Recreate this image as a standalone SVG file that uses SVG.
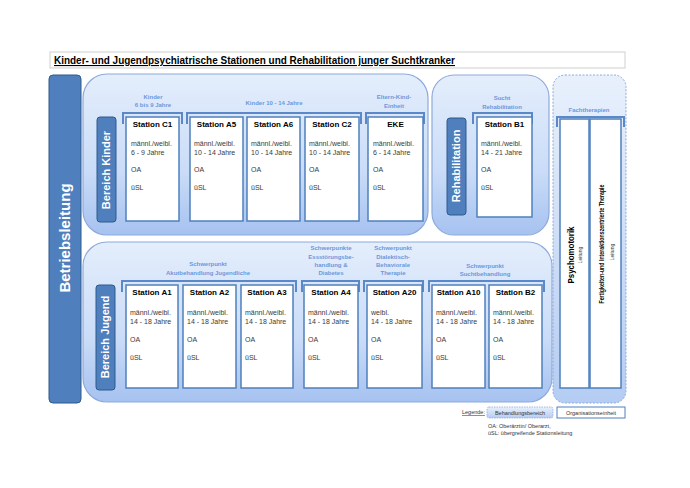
<svg xmlns="http://www.w3.org/2000/svg" width="690" height="488" viewBox="0 0 690 488">
<defs>
<linearGradient id="area" x1="0" y1="0" x2="0" y2="1">
<stop offset="0" stop-color="#e4eefc"/>
<stop offset="0.6" stop-color="#cadcf8"/>
<stop offset="1" stop-color="#a6c2f0"/>
</linearGradient>
<linearGradient id="area2" x1="0" y1="0" x2="0" y2="1">
<stop offset="0" stop-color="#e8f0fc"/>
<stop offset="1" stop-color="#b5cdf3"/>
</linearGradient>
<style>
text{font-family:"Liberation Sans",Arial,sans-serif;}
.area{fill:url(#area);stroke:#8eaadb;stroke-width:1.2;}
.bar{fill:#4f80bd;stroke:#2f5a8e;stroke-width:1;}
.box{fill:#ffffff;stroke:#4f80bd;stroke-width:1.5;}
.brk{fill:none;stroke:#5b88c8;stroke-width:2;}
.st{font-size:8px;font-weight:bold;fill:#000;text-anchor:middle;}
.bd{font-size:7px;fill:#3a3a3a;}
.hd{font-size:6px;font-weight:bold;fill:#6a98dc;text-anchor:middle;}
.vt{font-weight:bold;fill:#fff;text-anchor:middle;}
</style>
</defs>
<rect width="690" height="488" fill="#ffffff"/>

<g id="title">
<rect x="50" y="52" width="575" height="16" fill="#fff" stroke="#cfcfcf" stroke-width="1"/>
<text x="54" y="64" font-size="11" font-weight="bold" text-decoration="underline" textLength="401" lengthAdjust="spacingAndGlyphs">Kinder- und Jugendpsychiatrische Stationen und Rehabilitation junger Suchtkranker</text>
</g>

<g id="betriebsleitung">
<rect x="49" y="75" width="32" height="328" rx="4" class="bar"/>
<text class="vt" font-size="15" transform="translate(70 238) rotate(-90)">Betriebsleitung</text>
</g>

<g id="area-kinder">
<rect x="83" y="74" width="345" height="161" rx="24" class="area"/>
<rect x="97" y="117" width="19" height="105" rx="3" class="bar"/>
<text class="vt" font-size="11" transform="translate(110 170) rotate(-90)">Bereich Kinder</text>
<text class="hd" x="153" y="99">Kinder</text>
<text class="hd" x="153" y="107">6 bis 9 Jahre</text>
<text class="hd" x="274" y="105">Kinder 10 - 14 Jahre</text>
<text class="hd" x="394" y="99">Eltern-Kind-</text>
<text class="hd" x="394" y="108">Einheit</text>
</g>

<g id="area-reha">
<rect x="432" y="75" width="117" height="160" rx="22" class="area"/>
<rect x="447" y="118" width="19" height="97" rx="3" class="bar"/>
<text class="vt" font-size="11" transform="translate(460 166) rotate(-90)">Rehabilitation</text>
<text class="hd" x="502" y="100">Sucht</text>
<text class="hd" x="502" y="109">Rehabilitation</text>
</g>

<g id="area-jugend">
<rect x="83" y="242" width="469" height="160" rx="24" class="area"/>
<rect x="96" y="285" width="19" height="105" rx="3" class="bar"/>
<text class="vt" font-size="11" transform="translate(109 337) rotate(-90)">Bereich Jugend</text>
<text class="hd" x="208" y="266">Schwerpunkt</text>
<text class="hd" x="208" y="275">Akutbehandlung Jugendliche</text>
<text class="hd" x="331" y="250">Schwerpunkte</text>
<text class="hd" x="331" y="259">Essstörungsbe-</text>
<text class="hd" x="331" y="267">handlung &amp;</text>
<text class="hd" x="331" y="275">Diabetes</text>
<text class="hd" x="393" y="250">Schwerpunkt</text>
<text class="hd" x="393" y="259">Dialektisch-</text>
<text class="hd" x="393" y="267">Behaviorale</text>
<text class="hd" x="393" y="275">Therapie</text>
<text class="hd" x="485" y="268">Schwerpunkt</text>
<text class="hd" x="485" y="276">Suchtbehandlung</text>
</g>

<g id="area-fachtherapien">
<rect x="553" y="75" width="73" height="328" rx="12" fill="url(#area2)" stroke="#8eaadb" stroke-width="1" stroke-dasharray="2,1.5"/>
<text class="hd" x="589" y="112">Fachtherapien</text>
<rect x="560" y="119" width="29" height="269" class="box"/>
<rect x="590" y="119" width="31" height="269" class="box"/>
<text font-size="8.5" font-weight="bold" text-anchor="middle" fill="#000" transform="translate(574 255) rotate(-90)" textLength="57" lengthAdjust="spacingAndGlyphs">Psychomotorik</text>
<text font-size="5" text-anchor="middle" fill="#333" transform="translate(582 255) rotate(-90)">Leitung</text>
<text font-size="6.5" font-weight="bold" text-anchor="middle" fill="#000" transform="translate(604 244) rotate(-90)" textLength="119" lengthAdjust="spacingAndGlyphs">Fertigkeiten-und Interaktionszentrierte Therapie</text>
<text font-size="5" text-anchor="middle" fill="#333" transform="translate(614 252) rotate(-90)">Leitung</text>
</g>

<g id="connectors">
<path class="brk" d="M123 124 V113 H182 V124"/>
<path class="brk" d="M187 124 V113 H361 V124"/>
<path class="brk" d="M366 124 V113 H424 V124"/>
<path class="brk" d="M473 124 V113 H532 V124"/>
<path class="brk" d="M122 292 V281 H296 V292"/>
<path class="brk" d="M302 292 V281 H359 V292"/>
<path class="brk" d="M364 292 V281 H423 V292"/>
<path class="brk" d="M429 292 V281 H544 V292"/>
<path class="brk" d="M557 127 V117 H624 V127"/>
</g>

<g id="station-c1">
<rect x="126" y="117" width="53" height="104" class="box"/>
<text class="st" x="152.5" y="127">Station C1</text>
<text class="bd" x="131" y="146">männl./weibl.</text>
<text class="bd" x="131" y="155">6 - 9 Jahre</text>
<text class="bd" x="131" y="172">OA</text>
<text class="bd" x="131" y="190">üSL</text>
</g>
<g id="station-a5">
<rect x="190" y="117" width="53" height="104" class="box"/>
<text class="st" x="216.5" y="127">Station A5</text>
<text class="bd" x="194" y="146">männl./weibl.</text>
<text class="bd" x="194" y="155">10 - 14 Jahre</text>
<text class="bd" x="194" y="172">OA</text>
<text class="bd" x="194" y="190">üSL</text>
</g>
<g id="station-a6">
<rect x="247" y="117" width="53" height="104" class="box"/>
<text class="st" x="273.5" y="127">Station A6</text>
<text class="bd" x="251" y="146">männl./weibl.</text>
<text class="bd" x="251" y="155">10 - 14 Jahre</text>
<text class="bd" x="251" y="172">OA</text>
<text class="bd" x="251" y="190">üSL</text>
</g>
<g id="station-c2">
<rect x="305" y="117" width="54" height="104" class="box"/>
<text class="st" x="332" y="127">Station C2</text>
<text class="bd" x="309" y="146">männl./weibl.</text>
<text class="bd" x="309" y="155">10 - 14 Jahre</text>
<text class="bd" x="309" y="172">OA</text>
<text class="bd" x="309" y="190">üSL</text>
</g>
<g id="station-eke">
<rect x="368" y="117" width="55" height="104" class="box"/>
<text class="st" x="395.5" y="127">EKE</text>
<text class="bd" x="373" y="146">männl./weibl.</text>
<text class="bd" x="373" y="155">6 - 14 Jahre</text>
<text class="bd" x="373" y="172">OA</text>
<text class="bd" x="373" y="190">üSL</text>
</g>
<g id="station-b1">
<rect x="477" y="117" width="55" height="100" class="box"/>
<text class="st" x="504.5" y="127">Station B1</text>
<text class="bd" x="481" y="146">männl./weibl.</text>
<text class="bd" x="481" y="155">14 - 21 Jahre</text>
<text class="bd" x="481" y="172">OA</text>
<text class="bd" x="481" y="190">üSL</text>
</g>

<g id="station-a1">
<rect x="126" y="285" width="52" height="103" class="box"/>
<text class="st" x="152" y="295">Station A1</text>
<text class="bd" x="130" y="315">männl./weibl.</text>
<text class="bd" x="130" y="324">14 - 18 Jahre</text>
<text class="bd" x="130" y="342">OA</text>
<text class="bd" x="130" y="360">üSL</text>
</g>
<g id="station-a2">
<rect x="183" y="285" width="53" height="103" class="box"/>
<text class="st" x="209.5" y="295">Station A2</text>
<text class="bd" x="187" y="315">männl./weibl.</text>
<text class="bd" x="187" y="324">14 - 18 Jahre</text>
<text class="bd" x="187" y="342">OA</text>
<text class="bd" x="187" y="360">üSL</text>
</g>
<g id="station-a3">
<rect x="241" y="285" width="52" height="103" class="box"/>
<text class="st" x="267" y="295">Station A3</text>
<text class="bd" x="245" y="315">männl./weibl.</text>
<text class="bd" x="245" y="324">14 - 18 Jahre</text>
<text class="bd" x="245" y="342">OA</text>
<text class="bd" x="245" y="360">üSL</text>
</g>
<g id="station-a4">
<rect x="304" y="285" width="54" height="103" class="box"/>
<text class="st" x="331" y="295">Station A4</text>
<text class="bd" x="308" y="315">männl./weibl.</text>
<text class="bd" x="308" y="324">14 - 18 Jahre</text>
<text class="bd" x="308" y="342">OA</text>
<text class="bd" x="308" y="360">üSL</text>
</g>
<g id="station-a20">
<rect x="367" y="285" width="55" height="103" class="box"/>
<text class="st" x="394.5" y="295">Station A20</text>
<text class="bd" x="371" y="315">weibl.</text>
<text class="bd" x="371" y="324">14 - 18 Jahre</text>
<text class="bd" x="371" y="342">OA</text>
<text class="bd" x="371" y="360">üSL</text>
</g>
<g id="station-a10">
<rect x="432" y="285" width="53" height="103" class="box"/>
<text class="st" x="458.5" y="295">Station A10</text>
<text class="bd" x="436" y="315">männl./weibl.</text>
<text class="bd" x="436" y="324">14 - 18 Jahre</text>
<text class="bd" x="436" y="342">OA</text>
<text class="bd" x="436" y="360">üSL</text>
</g>
<g id="station-b2">
<rect x="489" y="285" width="53" height="103" class="box"/>
<text class="st" x="515.5" y="295">Station B2</text>
<text class="bd" x="493" y="315">männl./weibl.</text>
<text class="bd" x="493" y="324">14 - 18 Jahre</text>
<text class="bd" x="493" y="342">OA</text>
<text class="bd" x="493" y="360">üSL</text>
</g>

<g id="legend">
<text x="462" y="414" font-size="5.5" fill="#333" text-decoration="underline">Legende:</text>
<rect x="487" y="407" width="66" height="11" rx="2" fill="url(#area2)" stroke="#8eaadb" stroke-width="0.8" stroke-dasharray="1.5,1"/>
<text x="520" y="414.5" font-size="5.5" fill="#333" text-anchor="middle">Behandlungsbereich</text>
<rect x="557" y="407" width="68" height="11" fill="#fff" stroke="#4f80bd" stroke-width="1"/>
<text x="591" y="414.5" font-size="5.5" fill="#333" text-anchor="middle">Organisationseinheit</text>
<text x="488" y="428" font-size="5.5" fill="#333">OA: Oberärztin/ Oberarzt,</text>
<text x="488" y="435" font-size="5.5" fill="#333">üSL: übergreifende Stationsleitung</text>
</g>
</svg>
